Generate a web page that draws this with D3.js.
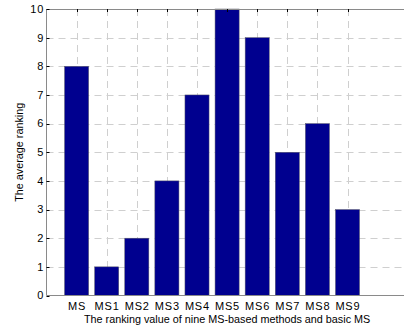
<!DOCTYPE html>
<html>
<head>
<meta charset="utf-8">
<script src="https://cdn.jsdelivr.net/npm/d3@7"></script>
<style>
  html, body { margin: 0; padding: 0; background: #fff; }
  svg { display: block; font-family: "Liberation Sans", Arial, Helvetica, sans-serif; }
</style>
</head>
<body>
<svg id="chart" width="404" height="325"></svg>
<script>
// Average ranking of the basic MS method and its nine variants
const categories = ["MS", "MS1", "MS2", "MS3", "MS4", "MS5", "MS6", "MS7", "MS8", "MS9"];
const rankings = [8, 1, 2, 4, 7, 10, 9, 5, 6, 3];
const yTicks = [0, 1, 2, 3, 4, 5, 6, 7, 8, 9, 10];

const svg = d3.select("#chart");
const plotLeft = 46.5, plotTop = 9, plotBottom = 295.5;
const unit = 30.1; // horizontal distance between bar centres
const tickFont = 11, tickSpacing = 0.8;

// Bars sit at positions 1..10 on a 0..12 x-range, as in a MATLAB bar plot
const x = d3.scaleLinear().domain([0, 12]).range([plotLeft, plotLeft + 12 * unit]);
const y = d3.scaleLinear().domain([0, 10]).range([plotBottom, plotTop]);
const positions = categories.map((c, i) => i + 1);
const barWidth = 0.8;

const plotRight = x(12);

// dashed grid
const grid = svg.append("g").attr("stroke", "#cfcfcf").attr("stroke-width", 1)
  .attr("stroke-dasharray", "7,5");
grid.selectAll("line.h").data(yTicks.slice(1, -1)).join("line")
  .attr("x1", plotLeft).attr("x2", plotRight)
  .attr("y1", d => Math.round(y(d)) + 0.5).attr("y2", d => Math.round(y(d)) + 0.5);
grid.selectAll("line.v").data(positions).join("line")
  .attr("x1", d => Math.round(x(d)) + 0.5).attr("x2", d => Math.round(x(d)) + 0.5)
  .attr("y1", plotTop).attr("y2", plotBottom);

// bars
svg.append("g").selectAll("rect").data(rankings).join("rect")
  .attr("x", (d, i) => x(positions[i] - barWidth / 2))
  .attr("width", x(barWidth) - x(0))
  .attr("y", d => y(d))
  .attr("height", d => y(0) - y(d))
  .attr("fill", "#00008f")
  .attr("stroke", "#5a5a6a")
  .attr("stroke-width", 0.5);

// axes box (left, top, bottom)
const box = svg.append("g").attr("stroke", "#8a8a8a").attr("stroke-width", 1).attr("fill", "none");
box.append("line").attr("x1", plotLeft).attr("x2", plotRight).attr("y1", plotTop + 0.5).attr("y2", plotTop + 0.5);
box.append("line").attr("x1", plotLeft).attr("x2", plotRight).attr("y1", plotBottom).attr("y2", plotBottom);
box.append("line").attr("x1", plotLeft).attr("x2", plotLeft).attr("y1", plotTop).attr("y2", plotBottom);

// inward tick marks
const ticks = svg.append("g").attr("stroke", "#000").attr("stroke-width", 1);
ticks.selectAll("line.yt").data(yTicks).join("line")
  .attr("x1", plotLeft).attr("x2", plotLeft + 3)
  .attr("y1", d => Math.round(y(d)) + 0.5).attr("y2", d => Math.round(y(d)) + 0.5);
ticks.selectAll("line.xt").data(positions).join("line")
  .attr("x1", d => Math.round(x(d)) + 0.5).attr("x2", d => Math.round(x(d)) + 0.5)
  .attr("y1", plotTop).attr("y2", plotTop + 3);

// y tick labels
svg.append("g").selectAll("text").data(yTicks).join("text")
  .attr("x", plotLeft - 3.2 + tickSpacing).attr("y", d => y(d)).attr("dy", "0.35em")
  .attr("text-anchor", "end").attr("font-size", tickFont)
  .attr("letter-spacing", tickSpacing).attr("fill", "#000")
  .text(d => d);

// x tick labels
svg.append("g").selectAll("text").data(categories).join("text")
  .attr("x", (d, i) => x(positions[i]) + tickSpacing / 2).attr("y", plotBottom + 14.5)
  .attr("text-anchor", "middle").attr("font-size", tickFont)
  .attr("letter-spacing", tickSpacing).attr("fill", "#000")
  .text(d => d);

// axis titles, centred on the axes
svg.append("text").attr("x", (plotLeft + plotRight) / 2).attr("y", 322.5)
  .attr("text-anchor", "middle").attr("font-size", 10.8).attr("fill", "#000")
  .text("The ranking value of nine MS-based methods and basic MS");
svg.append("text")
  .attr("transform", `translate(23,${(plotTop + plotBottom) / 2}) rotate(-90)`)
  .attr("text-anchor", "middle").attr("font-size", 10.8).attr("fill", "#000")
  .text("The average ranking");
</script>
</body>
</html>
